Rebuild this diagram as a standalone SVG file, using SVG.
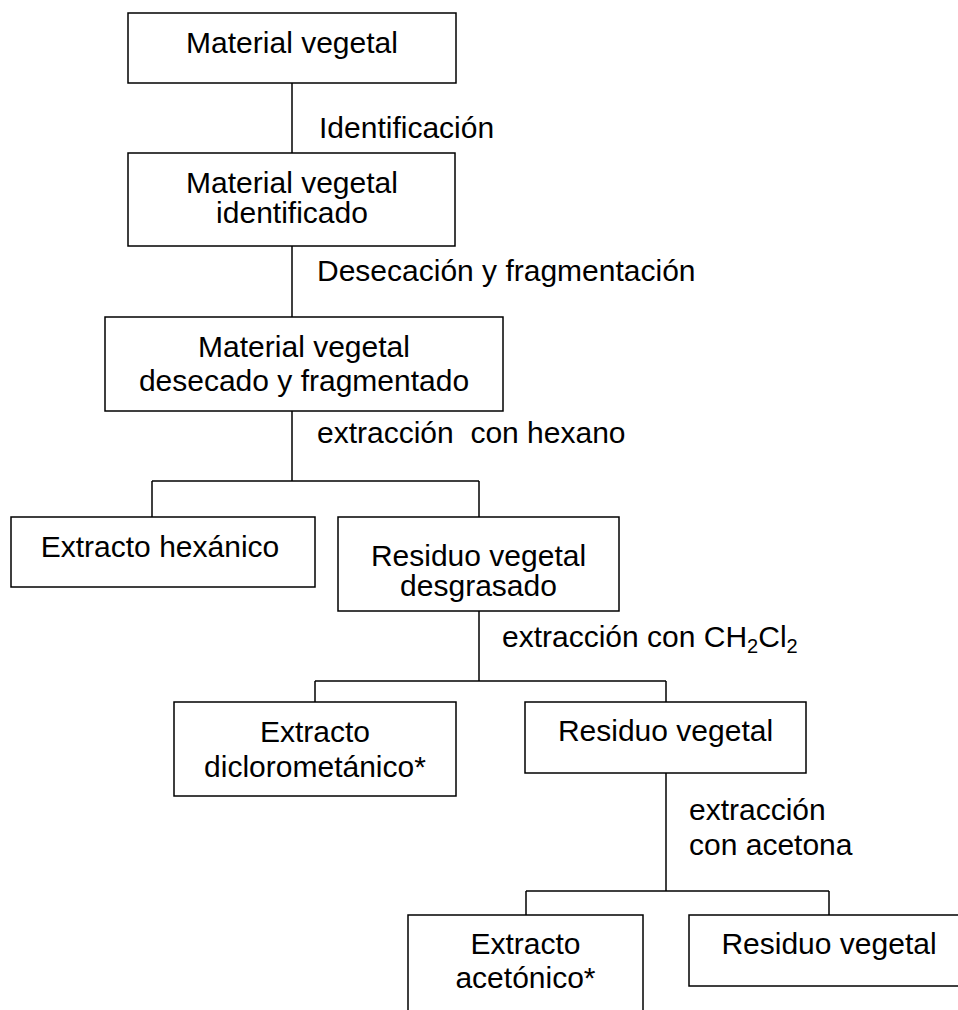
<svg xmlns="http://www.w3.org/2000/svg" width="958" height="1010" viewBox="0 0 958 1010">
<style>
  rect.box { fill: #ffffff; stroke: #000000; stroke-width: 1.5; }
  .conn line { stroke: #000000; stroke-width: 1.5; }
  text { font-family: "Liberation Sans", Arial, sans-serif; font-size: 30px; fill: #000000; }
  text.c { text-anchor: middle; }
  .sub { font-size: 20px; }
</style>
<rect x="0" y="0" width="958" height="1010" fill="#ffffff"/>
<g id="connectors" class="conn">
  <line x1="292" y1="83" x2="292" y2="153"/>
  <line x1="292" y1="246" x2="292" y2="317"/>
  <line x1="292" y1="411" x2="292" y2="481"/>
  <line x1="152" y1="481" x2="479" y2="481"/>
  <line x1="152" y1="481" x2="152" y2="517"/>
  <line x1="479" y1="481" x2="479" y2="517"/>
  <line x1="479" y1="611" x2="479" y2="681"/>
  <line x1="315" y1="681" x2="666" y2="681"/>
  <line x1="315" y1="681" x2="315" y2="702"/>
  <line x1="666" y1="681" x2="666" y2="702"/>
  <line x1="666" y1="773" x2="666" y2="891"/>
  <line x1="526" y1="891" x2="829" y2="891"/>
  <line x1="526" y1="891" x2="526" y2="915"/>
  <line x1="829" y1="891" x2="829" y2="915"/>
</g>
<g id="labels">
  <text x="319" y="138">Identificación</text>
  <text x="317" y="281">Desecación y fragmentación</text>
  <text x="317" y="443" xml:space="preserve">extracción  con hexano</text>
  <text x="502" y="647">extracción con CH<tspan class="sub" dy="6">2</tspan><tspan dy="-6">Cl</tspan><tspan class="sub" dy="6">2</tspan></text>
  <text x="689" y="820">extracción</text>
  <text x="689" y="855">con acetona</text>
</g>
<g id="n1">
  <rect class="box" x="128" y="13" width="328" height="70"/>
  <text class="c" x="292" y="53">Material vegetal</text>
</g>
<g id="n2">
  <rect class="box" x="128" y="153" width="327" height="93"/>
  <text class="c" x="292" y="193">Material vegetal</text>
  <text class="c" x="292" y="223">identificado</text>
</g>
<g id="n3">
  <rect class="box" x="105" y="317" width="398" height="94"/>
  <text class="c" x="304" y="357">Material vegetal</text>
  <text class="c" x="304" y="391">desecado y fragmentado</text>
</g>
<g id="n4">
  <rect class="box" x="11" y="517" width="304" height="70"/>
  <text class="c" x="160" y="557">Extracto hexánico</text>
</g>
<g id="n5">
  <rect class="box" x="338" y="517" width="281" height="94"/>
  <text class="c" x="478.5" y="566">Residuo vegetal</text>
  <text class="c" x="478.5" y="596">desgrasado</text>
</g>
<g id="n6">
  <rect class="box" x="174" y="702" width="282" height="94"/>
  <text class="c" x="315" y="742">Extracto</text>
  <text class="c" x="315" y="777">diclorometánico*</text>
</g>
<g id="n7">
  <rect class="box" x="525" y="702" width="281" height="71"/>
  <text class="c" x="665.5" y="741">Residuo vegetal</text>
</g>
<g id="n8">
  <rect class="box" x="408" y="915" width="235" height="110"/>
  <text class="c" x="525.5" y="954">Extracto</text>
  <text class="c" x="525.5" y="988">acetónico*</text>
</g>
<g id="n9">
  <rect class="box" x="689" y="915" width="280" height="71"/>
  <text class="c" x="829" y="954">Residuo vegetal</text>
</g>
</svg>
